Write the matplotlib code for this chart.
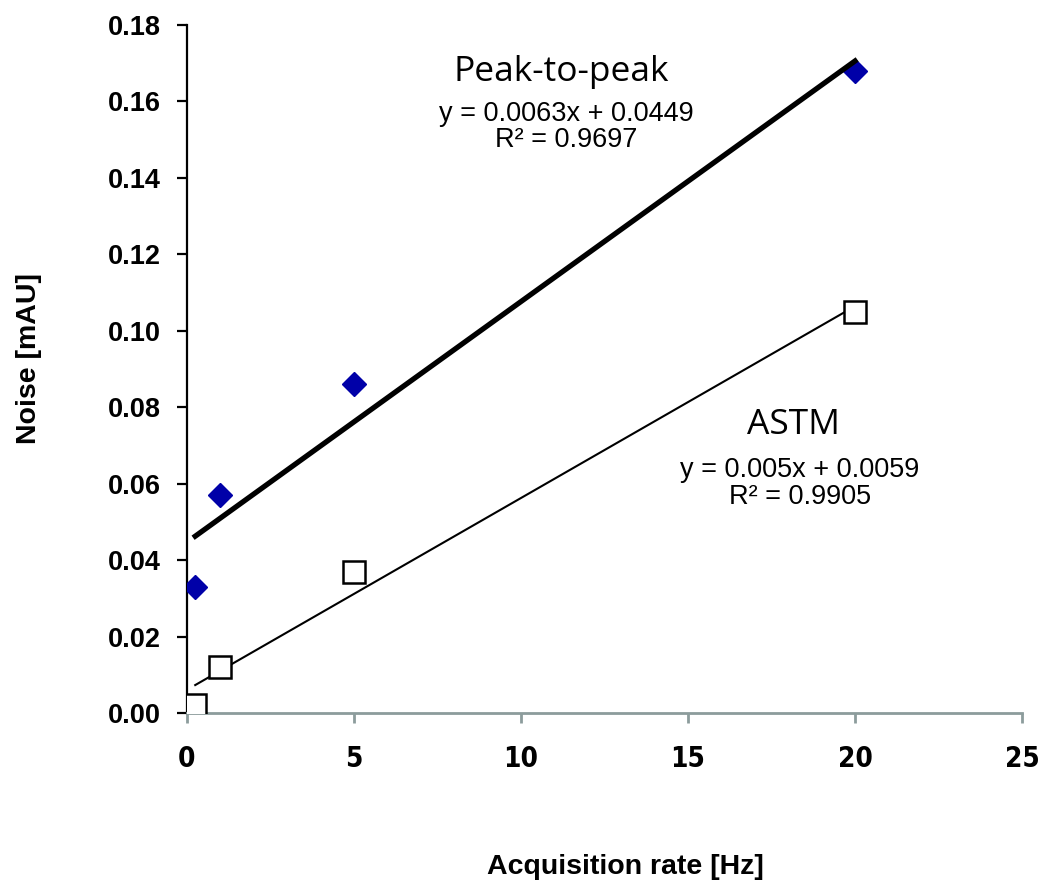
import matplotlib.pyplot as plt
import numpy as np
from matplotlib import font_manager

# Data
rate_hz = [0.25, 1, 5, 20]
peak_to_peak = [0.033, 0.057, 0.086, 0.168]
astm = [0.002, 0.012, 0.037, 0.105]

x_ticks = [0, 5, 10, 15, 20, 25]
y_ticks = [0.00, 0.02, 0.04, 0.06, 0.08, 0.10, 0.12, 0.14, 0.16, 0.18]

# narrow font for the x tick labels if we have one
installed = {f.name for f in font_manager.fontManager.ttflist}
if 'Liberation Sans Narrow' in installed:
    narrow = dict(family='Liberation Sans Narrow', fontweight='bold')
else:
    narrow = dict(family='DejaVu Sans', fontstretch='condensed', fontweight='bold')

fig = plt.figure(figsize=(10.44, 8.84), dpi=100)
ax = fig.add_axes([0.179, 0.1934, 0.800, 0.7783])

# Points
ax.plot(rate_hz, peak_to_peak, linestyle='none', marker='D', markersize=12,
        color='#0000a8', zorder=3)
ax.plot(rate_hz, astm, linestyle='none', marker='s', markersize=16,
        markerfacecolor='white', markeredgecolor='black', markeredgewidth=1.8, zorder=3)

# Linear trend lines
x_fit = np.array([min(rate_hz), max(rate_hz)])
p1 = np.polyfit(rate_hz, peak_to_peak, 1)
p2 = np.polyfit(rate_hz, astm, 1)
ax.plot(x_fit, np.polyval(p1, x_fit), color='black', linewidth=3.8, zorder=4)
ax.plot(x_fit, np.polyval(p2, x_fit), color='black', linewidth=1.5, zorder=2)

# Annotations
label_font = ['Open Sans', 'DejaVu Sans']
ax.text(0.448, 0.932, 'Peak-to-peak', transform=ax.transAxes, ha='center', va='center',
        fontsize=25.5, family=label_font)
ax.text(0.454, 0.871, 'y = 0.0063x + 0.0449', transform=ax.transAxes, ha='center',
        va='center', fontsize=19.5, family='Liberation Sans')
ax.text(0.454, 0.833, 'R² = 0.9697', transform=ax.transAxes, ha='center',
        va='center', fontsize=19.5, family='Liberation Sans')
ax.text(0.726, 0.419, 'ASTM', transform=ax.transAxes, ha='center', va='center',
        fontsize=25.5, family=label_font)
ax.text(0.734, 0.353, 'y = 0.005x + 0.0059', transform=ax.transAxes, ha='center',
        va='center', fontsize=19.5, family='Liberation Sans')
ax.text(0.734, 0.314, 'R² = 0.9905', transform=ax.transAxes, ha='center',
        va='center', fontsize=19.5, family='Liberation Sans')

# Axes
ax.set_xlim(0, 25)
ax.set_ylim(0, 0.18)
ax.set_xticks(x_ticks)
ax.set_yticks(y_ticks)
ax.set_xticklabels([str(t) for t in x_ticks], fontsize=20, **narrow)
ax.set_yticklabels(['%.2f' % t for t in y_ticks], family='Liberation Sans',
                   fontweight='bold', fontsize=19.5)

for side in ['top', 'right']:
    ax.spines[side].set_visible(False)
ax.spines['left'].set_linewidth(1.6)
ax.spines['left'].set_color('black')
ax.spines['bottom'].set_linewidth(2)
ax.spines['bottom'].set_color('#8c9c9c')

ax.tick_params(axis='y', direction='out', length=7, width=1.6, color='black', pad=12)
ax.tick_params(axis='x', direction='out', length=7, width=2, color='#8c9c9c', pad=16)

ax.set_xlabel('Acquisition rate [Hz]', fontsize=20.5, fontweight='bold', family='Liberation Sans')
ax.set_ylabel('Noise [mAU]', fontsize=20.5, fontweight='bold', family='Liberation Sans')
ax.xaxis.set_label_coords(0.525, -0.205)
ax.yaxis.set_label_coords(-0.174, 0.516)

fig.savefig('out.png', dpi=100)
